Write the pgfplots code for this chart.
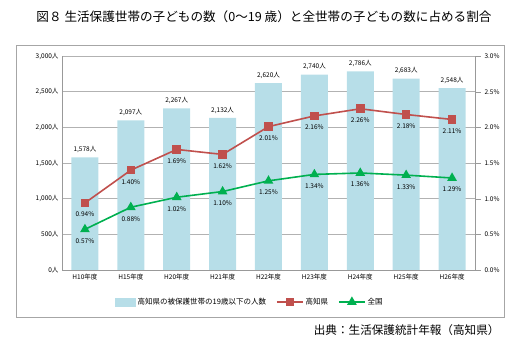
\documentclass[border=0pt]{standalone}
\usepackage{fontspec}
\setmainfont{Noto Sans CJK JP}
\usepackage{pgfplots}
\pgfplotsset{compat=1.18}
\definecolor{barblue}{HTML}{B7DEE8}
\definecolor{kred}{HTML}{C0504D}
\definecolor{kgreen}{HTML}{00B050}
\begin{document}
\begin{tikzpicture}[x=1pt,y=1pt]
\path[use as bounding box] (-62,-85) rectangle (459,270);
\draw[gray!70, line width=1pt] (-45,-48) rectangle (442,224);
\node[font=\fontsize{12.6}{13}\selectfont] at (202,253) {図８ 生活保護世帯の子どもの数（0～19 歳）と全世帯の子どもの数に占める割合};
\node[anchor=east, font=\fontsize{11.6}{12}\selectfont] at (441,-60) {出典：生活保護統計年報（高知県）};
\begin{axis}[at={(0,0)}, anchor=south west, scale only axis, width=413pt, height=214pt,
  xmin=-0.5, xmax=8.5, ymin=0, ymax=3000,
  axis x line*=bottom, axis y line*=left,
  axis line style={gray!80, -},
  ytick={0,500,1000,1500,2000,2500,3000},
  yticklabels={0人,500人,{1,000人},{1,500人},{2,000人},{2,500人},{3,000人}},
  xtick={0,...,8},
  xticklabels={H10年度,H15年度,H20年度,H21年度,H22年度,H23年度,H24年度,H25年度,H26年度},
  tick label style={font=\fontsize{6.5}{7}\selectfont},
  major tick length=0pt,
  ymajorgrids, grid style={gray!60},
  ybar, bar width=27pt,
  point meta=y,
  /pgf/number format/assume math mode=true,
  nodes near coords={\pgfmathprintnumber[fixed,1000 sep={,}]{\pgfplotspointmeta}人},
  nodes near coords style={font=\fontsize{6.5}{7}\selectfont, anchor=south, yshift=1pt},
]
\addplot[fill=barblue, draw=none] coordinates {
(0,1578) (1,2097) (2,2267) (3,2132) (4,2620) (5,2740) (6,2786) (7,2683) (8,2548)};
\end{axis}
\begin{axis}[at={(0,0)}, anchor=south west, scale only axis, width=413pt, height=214pt,
  xmin=-0.5, xmax=8.5, ymin=0, ymax=3,
  axis x line=none, axis y line*=right,
  axis line style={gray!80, -},
  ytick={0,0.5,1,1.5,2,2.5,3},
  yticklabels={0.0\%,0.5\%,1.0\%,1.5\%,2.0\%,2.5\%,3.0\%},
  tick label style={font=\fontsize{6.5}{7}\selectfont},
  tick align=outside, major tick length=6pt, tick style={gray!80},
  point meta=y,
  /pgf/number format/assume math mode=true,
  nodes near coords={\pgfmathprintnumber[fixed,fixed zerofill,precision=2]{\pgfplotspointmeta}\%},
  nodes near coords style={font=\fontsize{6.5}{7}\selectfont, anchor=north, yshift=-5pt, text=black},
  legend style={at={(188pt,-32pt)}, anchor=center, draw=none, fill=none, legend columns=3,
    font=\fontsize{7.5}{8}\selectfont, /tikz/every even column/.append style={column sep=8pt}},
  legend image code/.code={\draw[mark repeat=2,mark phase=2] plot coordinates {(0pt,0pt)(13pt,0pt)(26pt,0pt)};},
]
\addlegendimage{legend image code/.code={\fill[barblue] (0pt,-4pt) rectangle (20pt,4pt);}}
\addlegendentry{高知県の被保護世帯の19歳以下の人数}
\addplot[kred, line width=1.6pt, mark=square*, mark size=3.5pt, mark options={solid}] coordinates {
(0,0.94) (1,1.40) (2,1.69) (3,1.62) (4,2.01) (5,2.16) (6,2.26) (7,2.18) (8,2.11)};
\addlegendentry{高知県}
\addplot[kgreen, line width=1.6pt, mark=triangle*, mark size=4pt, mark options={solid}] coordinates {
(0,0.57) (1,0.88) (2,1.02) (3,1.10) (4,1.25) (5,1.34) (6,1.36) (7,1.33) (8,1.29)};
\addlegendentry{全国}
\end{axis}
\end{tikzpicture}
\end{document}
